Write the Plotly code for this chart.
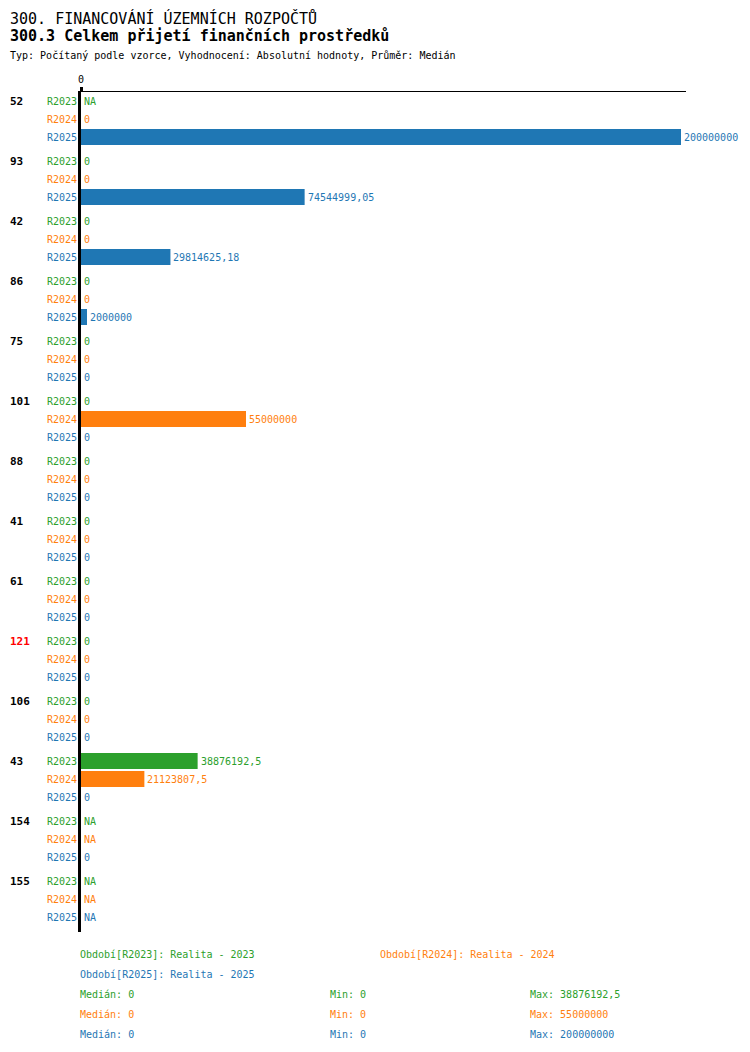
import plotly.graph_objects as go

groups = ["52", "93", "42", "86", "75", "101", "88", "41", "61", "121", "106", "43", "154", "155"]
series = ["R2023", "R2024", "R2025"]
r2023 = [None, 0, 0, 0, 0, 0, 0, 0, 0, 0, 0, 38876192.5, None, None]
r2024 = [0, 0, 0, 0, 0, 55000000, 0, 0, 0, 0, 0, 21123807.5, None, None]
r2025 = [200000000, 74544999.05, 29814625.18, 2000000, 0, 0, 0, 0, 0, 0, 0, 0, 0, None]
colors = ["#2ca02c", "#ff7f0e", "#1f77b4"]
highlight = {"121": "#ff0000"}

title1 = "300. FINANCOVÁNÍ ÚZEMNÍCH ROZPOČTŮ"
title2 = "300.3 Celkem přijetí finančních prostředků"
title3 = "Typ: Počítaný podle vzorce, Vyhodnocení: Absolutní hodnoty, Průměr: Medián"
legend_names = ["Období[R2023]: Realita - 2023", "Období[R2024]: Realita - 2024", "Období[R2025]: Realita - 2025"]
medians = ["0", "0", "0"]
mins = ["0", "0", "0"]
maxs = ["38876192,5", "55000000", "200000000"]

FONT = "DejaVu Sans Mono"
OFF = 8  # page margin around the figure
W, H = 750 - OFF, 1052 - OFF
L, T = 81 - OFF, 92 - OFF
R = W - (686 - OFF)
B = H - (932 - OFF)
PW = W - L - R


def fmt(v):
    if v is None:
        return "NA"
    if float(v).is_integer():
        return str(int(v))
    return repr(float(v)).replace(".", ",")


def ypos(g, s):
    return g * 10 + s * 3 + 1.5


fig = go.Figure()
annotations = []
all_series = [r2023, r2024, r2025]
for s, (name, vals, col) in enumerate(zip(series, all_series, colors)):
    ys = [ypos(g, s) for g in range(len(groups))]
    fig.add_trace(go.Bar(
        x=vals, y=ys, orientation="h", marker=dict(color=col, line=dict(width=0)),
        width=2.67, name=name, showlegend=False, hoverinfo="skip"))
    for g, v in enumerate(vals):
        annotations.append(dict(
            x=v if v is not None else 0, y=ys[g], xref="x", yref="y",
            text=fmt(v), showarrow=False, xanchor="left", yanchor="middle",
            xshift=1, font=dict(family=FONT, size=10, color=col)))
        annotations.append(dict(
            x=0, y=ys[g], xref="paper", yref="y", text=name, showarrow=False,
            xanchor="right", yanchor="middle", xshift=-2,
            font=dict(family=FONT, size=10, color=col)))

for g, lab in enumerate(groups):
    annotations.append(dict(
        x=0, y=ypos(g, 0), xref="paper", yref="y", text="<b>" + lab + "</b>",
        showarrow=False, xanchor="left", yanchor="middle", xshift=-73,
        font=dict(family=FONT, size=11, color=highlight.get(lab, "#000000"))))


def px_note(text, xpx, ypx, size, color="#000000", bold=False, anchor="middle"):
    fx = max(xpx - OFF, 0)
    fy = ypx - OFF
    annotations.append(dict(
        x=0, y=1, xref="paper", yref="paper",
        text=("<b>" + text + "</b>") if bold else text,
        showarrow=False, xanchor="left", yanchor=anchor,
        xshift=fx - L, yshift=T - fy,
        font=dict(family=FONT, size=size, color=color)))


px_note(title1, 0, 18, 15)
px_note(title2, 0, 36, 15, bold=True)
px_note(title3, 0, 55, 10)

px_note(legend_names[0], 78, 954, 10, colors[0])
px_note(legend_names[1], 378, 954, 10, colors[1])
px_note(legend_names[2], 78, 974, 10, colors[2])
for i in range(3):
    yy = 994 + 20 * i
    px_note("Medián: " + medians[i], 78, yy, 10, colors[i])
    px_note("Min: " + mins[i], 328, yy, 10, colors[i])
    px_note("Max: " + maxs[i], 528, yy, 10, colors[i])

xmax = 200000000 * PW / 600.0

fig.update_layout(
    width=W, height=H,
    margin=dict(l=L, r=R, t=T, b=B, autoexpand=False),
    paper_bgcolor="white", plot_bgcolor="white",
    barmode="overlay",
    annotations=annotations,
    font=dict(family=FONT, size=10, color="#000000"),
    xaxis=dict(range=[0, xmax], side="top", showgrid=False, zeroline=False,
               showline=True, linecolor="#000000", linewidth=1,
               tickvals=[0], ticktext=["0"], ticks="outside", ticklen=4,
               tickwidth=3, tickcolor="#000000",
               tickfont=dict(family=FONT, size=10, color="#000000"),
               fixedrange=True),
    yaxis=dict(range=[len(groups) * 10, 0], showgrid=False, zeroline=False,
               showline=True, linecolor="#000000", linewidth=3,
               showticklabels=False, ticks="", layer="above traces",
               fixedrange=True),
)

fig.write_html("out.html")
